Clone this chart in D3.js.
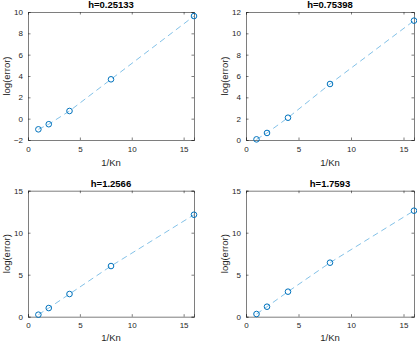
<!DOCTYPE html>
<html><head><meta charset="utf-8">
<script src="https://cdn.jsdelivr.net/npm/d3@7"></script>
<style>body{margin:0;background:#fff}svg{display:block}</style>
</head><body>
<script>
const xValues = [1, 2, 4, 8, 16];
const titles = ["h=0.25133", "h=0.75398", "h=1.2566", "h=1.7593"];
const series1 = [-1.0, -0.52, 0.72, 3.69, 9.62];
const series2 = [0.06, 0.66, 2.09, 5.25, 11.19];
const series3 = [0.24, 1.03, 2.7, 6.03, 12.14];
const series4 = [0.32, 1.19, 2.98, 6.43, 12.62];
const yDomains = [[-2, 10], [0, 12], [0, 15], [0, 15]];
const yTicks = [[-2, 0, 2, 4, 6, 8, 10], [0, 2, 4, 6, 8, 10, 12], [0, 5, 10, 15], [0, 5, 10, 15]];
const xDomain = [0, 16];
const xTicks = [0, 5, 10, 15];
const xLabel = "1/Kn";
const yLabel = "log(error)";
const allSeries = [series1, series2, series3, series4];

const W = 417, H = 343;
const svg = d3.select("body").append("svg").attr("width", W).attr("height", H)
  .style("font-family", "'Liberation Sans', Arial, sans-serif");

const boxes = [
  {l: 28, r: 194, t: 12, b: 140},
  {l: 246, r: 414, t: 12, b: 140},
  {l: 28, r: 194, t: 190.7, b: 316.7},
  {l: 246, r: 414, t: 190.7, b: 316.7}
];
const axisColor = "#262626";

boxes.forEach((bx, i) => {
  const x = d3.scaleLinear().domain(xDomain).range([bx.l, bx.r]);
  const y = d3.scaleLinear().domain(yDomains[i]).range([bx.b, bx.t]);
  const g = svg.append("g");
  g.append("rect").attr("x", bx.l).attr("y", bx.t).attr("width", bx.r - bx.l).attr("height", bx.b - bx.t)
    .attr("fill", "#fff");

  const xa = g.append("g").attr("transform", `translate(0,${bx.b})`)
    .call(d3.axisBottom(x).tickValues(xTicks).tickSize(-2.5).tickPadding(6).tickFormat(d3.format("d")));
  const xa2 = g.append("g").attr("transform", `translate(0,${bx.t})`)
    .call(d3.axisTop(x).tickValues(xTicks).tickSize(-2.5).tickFormat(""));
  const ya = g.append("g").attr("transform", `translate(${bx.l},0)`)
    .call(d3.axisLeft(y).tickValues(yTicks[i]).tickSize(-2.5).tickPadding(5).tickFormat(d3.format("d")));
  const ya2 = g.append("g").attr("transform", `translate(${bx.r},0)`)
    .call(d3.axisRight(y).tickValues(yTicks[i]).tickSize(-2.5).tickFormat(""));
  [xa, xa2, ya, ya2].forEach(a => {
    a.select(".domain").attr("stroke", axisColor).attr("stroke-width", 0.6);
    a.selectAll(".tick line").attr("stroke", axisColor).attr("stroke-width", 0.6);
    a.selectAll("text").attr("fill", axisColor).style("font-size", "8px").style("font-family", "'Liberation Sans', Arial, sans-serif");
  });
  xa.selectAll("text").attr("dy", "0.71em");

  const data = xValues.map((v, k) => [v, allSeries[i][k]]);
  const line = d3.line().x(d => x(d[0])).y(d => y(d[1]));
  g.append("path").datum(data).attr("d", line).attr("fill", "none")
    .attr("stroke", "#4da6dd").attr("stroke-width", 0.7).attr("stroke-dasharray", "6,4");
  g.selectAll("circle.pt").data(data).enter().append("circle")
    .attr("cx", d => x(d[0])).attr("cy", d => y(d[1])).attr("r", 2.8)
    .attr("fill", "none").attr("stroke", "#0072BD").attr("stroke-width", 1);

  g.append("text").attr("x", (bx.l + bx.r) / 2).attr("y", bx.t - 4).attr("text-anchor", "middle")
    .attr("font-weight", "bold").attr("font-size", "9.5px").attr("fill", "#000").text(titles[i]);
  g.append("text").attr("x", (bx.l + bx.r) / 2).attr("y", Math.min(bx.b + 26, H - 2.5)).attr("text-anchor", "middle")
    .attr("font-size", "9.5px").attr("fill", axisColor).text(xLabel);
  const ylx = bx.l - 18;
  g.append("text").attr("transform", `translate(${ylx},${(bx.t + bx.b) / 2}) rotate(-90)`)
    .attr("text-anchor", "middle").attr("font-size", "9.5px").attr("fill", axisColor).text(yLabel);
});
</script>
</body></html>
